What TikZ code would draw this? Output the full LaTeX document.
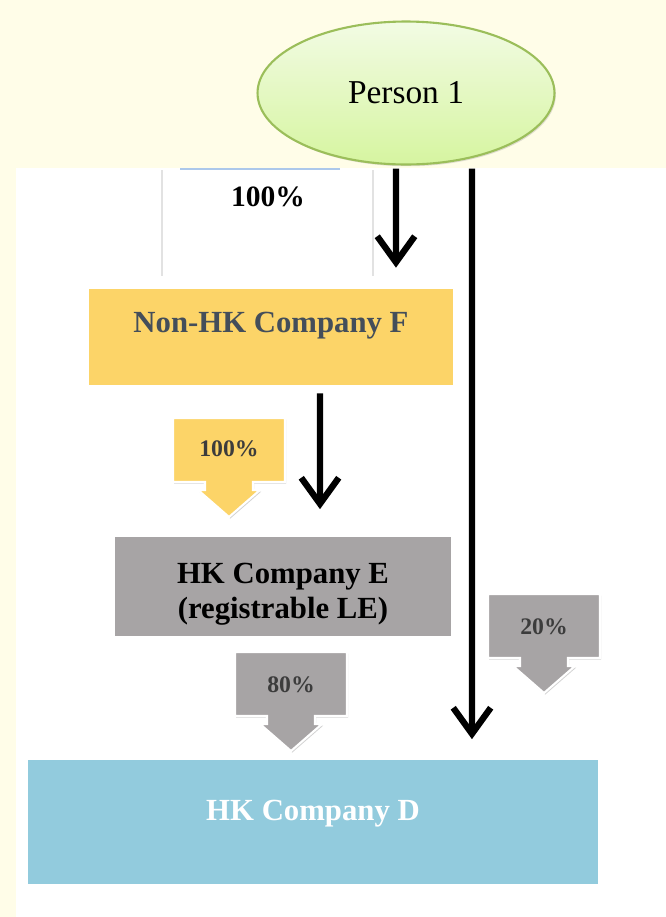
\documentclass[tikz,border=0pt]{standalone}
\usepackage{fontspec}
\setmainfont{Liberation Serif}
\usetikzlibrary{shapes.geometric,arrows.meta,shadows}

\definecolor{cream}{RGB}{255,253,232}
\definecolor{leafgreen}{RGB}{155,190,90}
\definecolor{palegreen}{RGB}{242,251,228}
\definecolor{limegreen}{RGB}{214,245,160}
\definecolor{boxyellow}{RGB}{252,212,104}
\definecolor{boxgray}{RGB}{167,164,165}
\definecolor{boxblue}{RGB}{146,203,221}
\definecolor{slatetext}{RGB}{68,78,90}
\definecolor{darktext}{RGB}{60,60,60}
\definecolor{cellline}{RGB}{226,226,226}
\definecolor{cellblue}{RGB}{172,200,235}

% down-arrow callout round a share label, #1 = centre, #2 = fill
\newcommand{\sharearrow}[2]{%
  \filldraw[callout, fill=#2, shift={(#1)}]
    (-56,-32) -- (56,-32) -- (56,32) -- (24,32) -- (24,40) -- (31,40) -- (0,67)
    -- (-31,40) -- (-24,40) -- (-24,32) -- (-56,32) -- cycle;}

\begin{document}
\begin{tikzpicture}[
    x=0.02cm, y=-0.02cm,
    company/.style={rectangle, inner sep=0pt, align=center, font=\fontsize{17.5}{19.5}\selectfont\bfseries},
    share/.style={font=\fontsize{13.5}{15}\selectfont\bfseries, text=darktext},
    owns/.style={line width=3.6pt, -{Straight Barb[length=0.52cm, width=0.75cm]}},
    callout/.style={draw=white, line width=1.2pt, drop shadow={opacity=0.35, shadow xshift=0.7pt, shadow yshift=-0.9pt}}
    ]

    \fill[cream] (0,0) rectangle (666,917);
    \useasboundingbox (0,0) rectangle (666,917);
    \fill[white] (16,168) rectangle (666,917);

    % faint table cell behind the top share
    \draw[cellline, line width=0.6pt] (162,170) -- (162,276) (373,170) -- (373,276);
    \draw[cellblue, line width=0.8pt] (180,169) -- (340,169);

    \node[draw=leafgreen, ellipse, line width=1.2pt, inner sep=0pt, minimum width=5.94cm, minimum height=2.86cm, top color=palegreen, bottom color=limegreen, drop shadow={opacity=0.25, shadow xshift=0.8pt, shadow yshift=-1pt}, font=\fontsize{19}{21}\selectfont] (person) at (406,93) {Person 1};
    \node[font=\fontsize{16.8}{18}\selectfont\bfseries] (shareF) at (268,197) {100\%};

    \node[company, fill=boxyellow, text=slatetext, minimum width=7.28cm, minimum height=1.92cm, text depth=0.57cm] (compF) at (271,337) {Non-HK Company F};
    \node[company, fill=boxgray, text=black, minimum width=6.72cm, minimum height=1.98cm, text height=1.42cm] (compE) at (283,586) {HK Company E\\(registrable LE)};
    \node[company, fill=boxblue, text=white, minimum width=11.4cm, minimum height=2.5cm, text depth=0.45cm] (compD) at (313,822) {HK Company D};

    \sharearrow{229,450}{boxyellow}
    \node[share] (shareE) at (229,449) {100\%};
    \sharearrow{291,684}{boxgray}
    \node[share] (shareDE) at (291,685) {80\%};
    \sharearrow{544,626}{boxgray}
    \node[share] (shareDP) at (544,627) {20\%};

    \draw[owns] ([xshift=-0.2cm, yshift=-0.06cm]person.south) -- ([xshift=2.5cm, yshift=0.42cm]compF.north);
    \draw[owns] ([xshift=1.32cm, yshift=-0.06cm]person.south) -- ([xshift=3.18cm, yshift=0.4cm]compD.north);
    \draw[owns] ([xshift=0.98cm, yshift=-0.16cm]compF.south) -- ([xshift=0.74cm, yshift=0.54cm]compE.north);

  \end{tikzpicture}
\end{document}
